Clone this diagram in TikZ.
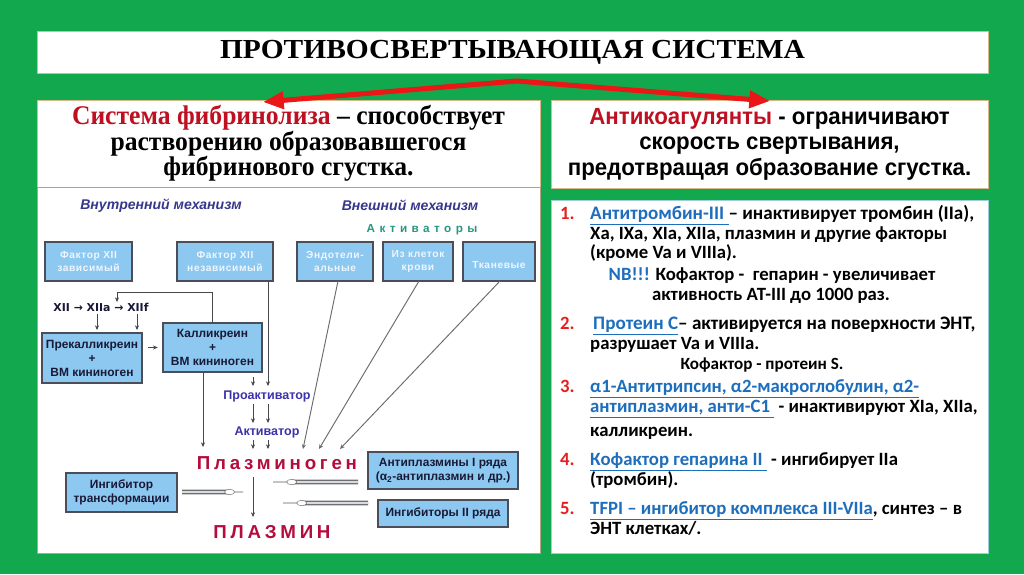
\documentclass[tikz,border=0pt]{standalone}
\usepackage{fontspec}
\setmainfont{Liberation Serif}
\newfontfamily\titlefont[FakeStretch=1.07]{Liberation Serif}
\newfontfamily\leftfont[FakeStretch=0.95]{Liberation Serif}
\newfontfamily\headsans[FakeStretch=0.95]{Liberation Sans}
\newfontfamily\listfont{Carlito}
\newfontfamily\diafont{Liberation Sans}
\newfontfamily\upfont[LetterSpace=6]{Liberation Sans}
\newfontfamily\spacedfont[LetterSpace=20]{Liberation Sans}
\newfontfamily\actfont[LetterSpace=38]{Liberation Sans}
\newfontfamily\arrfont{DejaVu Sans}
\usetikzlibrary{arrows.meta,calc,shapes.geometric}

\definecolor{bggreen}{RGB}{18,168,78}
\definecolor{paneledge}{RGB}{214,186,140}
\definecolor{listedge}{RGB}{160,205,220}
\definecolor{boxfill}{RGB}{140,200,240}
\definecolor{boxedge}{RGB}{75,78,88}
\definecolor{boxtext}{RGB}{238,246,255}
\definecolor{darktext}{RGB}{25,25,55}
\definecolor{mechblue}{RGB}{55,55,140}
\definecolor{problue}{RGB}{60,50,170}
\definecolor{crimson}{RGB}{180,12,60}
\definecolor{actteal}{RGB}{40,150,130}
\definecolor{hdred}{RGB}{190,16,32}
\definecolor{bigred}{RGB}{235,22,22}
\definecolor{listblue}{RGB}{30,110,190}
\definecolor{numred}{RGB}{232,30,30}
\definecolor{linegray}{RGB}{70,70,75}
\definecolor{bargray}{RGB}{130,132,135}

\tikzset{
  panel/.style={draw=paneledge, fill=white, line width=0.8pt, inner sep=0pt},
  fbox/.style={draw=boxedge, fill=boxfill, line width=1pt, inner sep=1pt, align=center,
    font=\diafont\bfseries\fontsize{10.2}{12}\selectfont},
  upbox/.style={fbox, text=boxtext, minimum height=1.17cm, font=\upfont\bfseries\fontsize{8.7}{11.5}\selectfont},
  lowbox/.style={fbox, text=darktext},
  arr/.style={-{Stealth[length=4pt,width=3.5pt]}, line width=0.6pt, draw=linegray},
  ray/.style={-{Stealth[length=4pt,width=3.5pt]}, line width=0.8pt, draw=linegray!80},
  redarr/.style={line width=4.3pt, draw=bigred, line join=round,
    {Triangle[length=0.62cm,width=0.5cm]}-{Triangle[length=0.62cm,width=0.5cm]}},
  item/.style={anchor=mid west, inner sep=0pt, font=\listfont\bfseries\fontsize{16}{18}\selectfont},
  longitem/.style={item, font=\listfont\bfseries\fontsize{16.3}{18}\selectfont},
  num/.style={item, text=numred},
  mech/.style={inner sep=0pt, text=mechblue, font=\diafont\bfseries\itshape\fontsize{12}{14}\selectfont},
  stage/.style={inner sep=0pt, text=problue, font=\diafont\bfseries\fontsize{10.7}{12}\selectfont},
  plas/.style={inner sep=0pt, text=crimson, font=\spacedfont\bfseries\fontsize{16}{16}\selectfont},
  needle/.style={line width=0.8pt, draw=bargray!70!black},
  barbody/.style={line width=4.2pt, draw=bargray!85!black, postaction={draw=bargray!30, line width=1.6pt}},
  collar/.style={ellipse, draw=bargray!80!black, fill=white, inner sep=0pt, minimum width=0.3cm, minimum height=0.16cm}
}

\begin{document}
\begin{tikzpicture}[x=0.03cm, y=-0.03cm]
\useasboundingbox (0,0) rectangle (1024,574);
\fill[bggreen] (0,0) rectangle (1024,574);

\node[panel, minimum width=28.53cm, minimum height=1.26cm,
  font=\titlefont\bfseries\fontsize{23.5}{26}\selectfont] (title) at (512.5,52) {ПРОТИВОСВЕРТЫВАЮЩАЯ СИСТЕМА};

\node[panel, minimum width=15.09cm, minimum height=2.61cm, align=center,
  font=\leftfont\bfseries\fontsize{23}{21.8}\selectfont] (lhead) at (288.5,143.5)
  {{\color{hdred}Система фибринолиза} – способствует\\растворению образовавшегося\\фибринового сгустка.};
\node[panel, draw=paneledge!60!gray, minimum width=15.09cm, minimum height=10.98cm] (ldia) at (288.5,370) {};

\node[panel, minimum width=13.11cm, minimum height=2.64cm, align=center,
  font=\headsans\bfseries\fontsize{20}{21.8}\selectfont] (rhead) at (769.5,144)
  {{\color{hdred}Антикоагулянты} - ограничивают\\скорость свертывания,\\предотвращая образование сгустка.};
\node[panel, draw=listedge, minimum width=13.11cm, minimum height=10.59cm] (rlist) at (769.5,376.5) {};

\coordinate (apex) at (517,81);
\coordinate (tipL) at (263,102);
\coordinate (tipR) at (770,101);
\draw[redarr] (tipL) -- (apex) -- (tipR);

\node[mech] (inner) at (161,206) {Внутренний механизм};
\node[mech] (outer) at (410,205) {Внешний механизм};
\node[inner sep=0pt, text=actteal, font=\actfont\bfseries\fontsize{10}{12}\selectfont] (activ) at (422,230) {Активаторы};

\node[upbox, minimum width=2.61cm] (fxd) at (88.5,261.5) {Фактор XII\\зависимый};
\node[upbox, minimum width=2.88cm] (fxn) at (225,261.5) {Фактор XII\\независимый};
\node[upbox, minimum width=2.28cm] (endo) at (335,261.5) {Эндотели-\\альные};
\node[upbox, minimum width=2.10cm] (blood) at (418,261.5) {Из клеток\\крови};
\node[upbox, minimum width=2.16cm] (tiss) at (499,261.5) {\mbox{}\\Тканевые};

\node[inner sep=0pt, text=darktext, font=\arrfont\bfseries\fontsize{9.3}{10}\selectfont] (chain) at (101,307) {XII → XIIa → XIIf};
\node[lowbox, minimum width=3.0cm, minimum height=1.5cm] (prek) at (92,358) {Прекалликреин\\+\\ВМ кининоген};
\node[lowbox, minimum width=2.97cm, minimum height=1.47cm] (kall) at (212.5,347.5) {Калликреин\\+\\ВМ кининоген};

\node[stage] (proact) at (267,396) {Проактиватор};
\node[stage] (act) at (267,432) {Активатор};
\node[plas] (plg) at (277,463) {Плазминоген};
\node[plas] (plm) at (272,532) {ПЛАЗМИН};

\node[lowbox, minimum width=3.33cm, minimum height=1.17cm] (ingtr) at (121.5,492.5) {Ингибитор\\трансформации};
\node[lowbox, minimum width=4.5cm, minimum height=1.11cm] (antipl) at (443,470.5) {Антиплазмины I ряда\\(α\textsubscript{2}-антиплазмин и др.)};
\node[lowbox, minimum width=3.9cm, minimum height=0.81cm] (ingii) at (443,513.5) {Ингибиторы II ряда};

\coordinate (xa) at (97,330);
\coordinate (xf) at (137,330);
\draw[arr] (97,314) -- (xa);
\draw[arr] (137,314) -- (xf);
\coordinate (lpt) at (117,292);
\coordinate (lp) at (117,302);
\draw[arr] (kall.north) |- (lpt) -- (lp);
\draw[arr, shorten <=5pt, shorten >=4pt] (prek.east |- kall.west) -- (kall.west);

\coordinate (k1) at (203,447);
\draw[arr] (k1 |- kall.south) -- (k1);
\coordinate (p1) at (253,386);
\coordinate (p2) at (268,386);
\draw[arr] (253,377) -- (p1);
\draw[arr] (p2 |- fxn.south) -- (p2);
\coordinate (a1) at (253,423);
\coordinate (a2) at (268,423);
\draw[arr] (253,404) -- (a1);
\draw[arr] (268,404) -- (a2);
\coordinate (g1) at (253,449);
\coordinate (g2) at (268,449);
\draw[arr] (253,440) -- (g1);
\draw[arr] (268,440) -- (g2);

\coordinate (r1) at (303,449);
\coordinate (r2) at (319,449);
\coordinate (r3) at (340,449);
\draw[ray] (338,281) -- (r1);
\draw[ray] (419,281) -- (r2);
\draw[ray] (500,281) -- (r3);

\coordinate (m1) at (253,517);
\draw[arr] (253,477) -- (m1);

\coordinate (b1s) at (243,492);
\coordinate (b1e) at (182,492);
\coordinate (b2s) at (273,482);
\coordinate (b2e) at (358,482);
\coordinate (b3s) at (283,503);
\coordinate (b3e) at (368,503);
\foreach \b in {b1,b2,b3} {
  \draw[needle] (\b s) -- ($(\b s)!0.2!(\b e)$);
  \draw[barbody] ($(\b s)!0.22!(\b e)$) -- (\b e);
  \node[collar] at ($(\b s)!0.22!(\b e)$) {};
}

\node[num] (n1) at (560,217) {1.};
\node[longitem] (l1a) at (590,217) {{\color{listblue}\underline{Антитромбин-III\ }}– инактивирует тромбин (IIa),};
\node[item] (l1b) at (590,237) {Xa, IXa, XIa, XIIa, плазмин и другие факторы};
\node[item] (l1c) at (590,256) {(кроме Va и VIIIa).};
\node[item, anchor=mid] (l1d) at (772,278) {{\color{listblue}NB!!!} Кофактор -\ \ гепарин - увеличивает};
\node[item, anchor=mid] (l1e) at (771,298) {активность АТ-III до 1000 раз.};

\node[num] (n2) at (560,327) {2.};
\node[longitem] (l2a) at (593,327) {{\color{listblue}\underline{Протеин С}}– активируется на поверхности ЭНТ,};
\node[item] (l2b) at (590,347) {разрушает Va и VIIIa.};
\node[item, anchor=mid, font=\listfont\bfseries\fontsize{14.6}{18}\selectfont] (l2c) at (762,367) {Кофактор - протеин S.};

\node[num] (n3) at (560,390) {3.};
\node[item] (l3a) at (590,390) {\color{listblue}\underline{α1-Антитрипсин, α2-макроглобулин, α2-}};
\node[item] (l3b) at (590,410) {{\color{listblue}\underline{антиплазмин, анти-С1\ }} - инактивируют XIa, XIIa,};
\node[item] (l3c) at (590,434) {калликреин.};

\node[num] (n4) at (560,463) {4.};
\node[item] (l4a) at (590,463) {{\color{listblue}\underline{Кофактор гепарина II\ }} - ингибирует IIa};
\node[item] (l4b) at (590,483) {(тромбин).};

\node[num] (n5) at (560,512) {5.};
\node[item] (l5a) at (590,512) {{\color{listblue}\underline{TFPI – ингибитор комплекса III-VIIa}}, синтез – в};
\node[item] (l5b) at (590,532) {ЭНТ клетках/.};
\end{tikzpicture}
\end{document}
